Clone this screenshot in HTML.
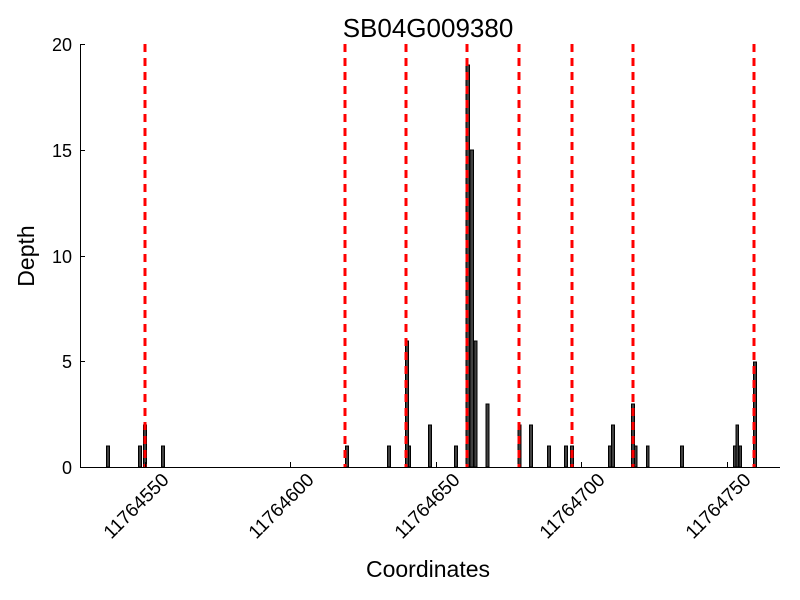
<!DOCTYPE html>
<html><head><style>body{margin:0;background:#fff}svg{display:block}text{font-family:"Liberation Sans",sans-serif}</style></head><body>
<svg width="800" height="600" xmlns="http://www.w3.org/2000/svg">
<rect width="800" height="600" fill="#fff"/>
<g fill="#404040" stroke="#000" stroke-width="1">
<rect x="106.5" y="446" width="3" height="21"/>
<rect x="138.5" y="446" width="3" height="21"/>
<rect x="143.5" y="425" width="3" height="42"/>
<rect x="161.5" y="446" width="3" height="21"/>
<rect x="345.5" y="446" width="3" height="21"/>
<rect x="387.5" y="446" width="3" height="21"/>
<rect x="405.5" y="341" width="3" height="126"/>
<rect x="408.5" y="446" width="2" height="21"/>
<rect x="428.5" y="425" width="3" height="42"/>
<rect x="454.5" y="446" width="3" height="21"/>
<rect x="466" y="65" width="3.5" height="402"/>
<rect x="470" y="150" width="3.5" height="317"/>
<rect x="474" y="341" width="3" height="126"/>
<rect x="486" y="404" width="3" height="63"/>
<rect x="518" y="425" width="3" height="42"/>
<rect x="529.5" y="425" width="3" height="42"/>
<rect x="547.5" y="446" width="3" height="21"/>
<rect x="564.5" y="446" width="3" height="21"/>
<rect x="570.5" y="446" width="3" height="21"/>
<rect x="608.5" y="446" width="3" height="21"/>
<rect x="611.5" y="425" width="3" height="42"/>
<rect x="631.5" y="404" width="3" height="63"/>
<rect x="634.5" y="446" width="2.5" height="21"/>
<rect x="646.5" y="446" width="2.5" height="21"/>
<rect x="680.5" y="446" width="3" height="21"/>
<rect x="733.5" y="446" width="3" height="21"/>
<rect x="736" y="425" width="2.5" height="42"/>
<rect x="739" y="446" width="2.5" height="21"/>
<rect x="753.5" y="362" width="3" height="105"/>
</g>
<g stroke="#f00" stroke-width="3" stroke-dasharray="8,6">
<line x1="145" y1="44" x2="145" y2="467"/>
<line x1="345" y1="44" x2="345" y2="467"/>
<line x1="406" y1="44" x2="406" y2="467"/>
<line x1="467" y1="44" x2="467" y2="467"/>
<line x1="519" y1="44" x2="519" y2="467"/>
<line x1="572" y1="44" x2="572" y2="467"/>
<line x1="633" y1="44" x2="633" y2="467"/>
<line x1="754" y1="44" x2="754" y2="467"/>
</g>
<g stroke="#000" stroke-width="1">
<line x1="80.5" y1="44" x2="80.5" y2="467.5"/>
<line x1="80" y1="467.5" x2="780" y2="467.5"/>
<line x1="80" y1="44.5" x2="85" y2="44.5"/>
<line x1="80" y1="150.5" x2="85" y2="150.5"/>
<line x1="80" y1="256.5" x2="85" y2="256.5"/>
<line x1="80" y1="361.5" x2="85" y2="361.5"/>
<line x1="145.5" y1="467" x2="145.5" y2="462"/>
<line x1="290.5" y1="467" x2="290.5" y2="462"/>
<line x1="436.5" y1="467" x2="436.5" y2="462"/>
<line x1="581.5" y1="467" x2="581.5" y2="462"/>
<line x1="727.5" y1="467" x2="727.5" y2="462"/>
</g>
<g font-size="18" text-anchor="end">
<text x="72" y="51">20</text><text x="72" y="157">15</text><text x="72" y="263">10</text><text x="72" y="368">5</text><text x="72" y="474">0</text>
</g>
<g font-size="19" text-anchor="end">
<text transform="translate(170,481) rotate(-45)">11764550</text>
<text transform="translate(315,481) rotate(-45)">11764600</text>
<text transform="translate(461,481) rotate(-45)">11764650</text>
<text transform="translate(606,481) rotate(-45)">11764700</text>
<text transform="translate(752,481) rotate(-45)">11764750</text>
</g>
<text x="428" y="37" font-size="26" text-anchor="middle">SB04G009380</text>
<text x="428" y="577" font-size="23" text-anchor="middle">Coordinates</text>
<text transform="translate(34,256) rotate(-90)" font-size="23" text-anchor="middle">Depth</text>
</svg>
</body></html>
